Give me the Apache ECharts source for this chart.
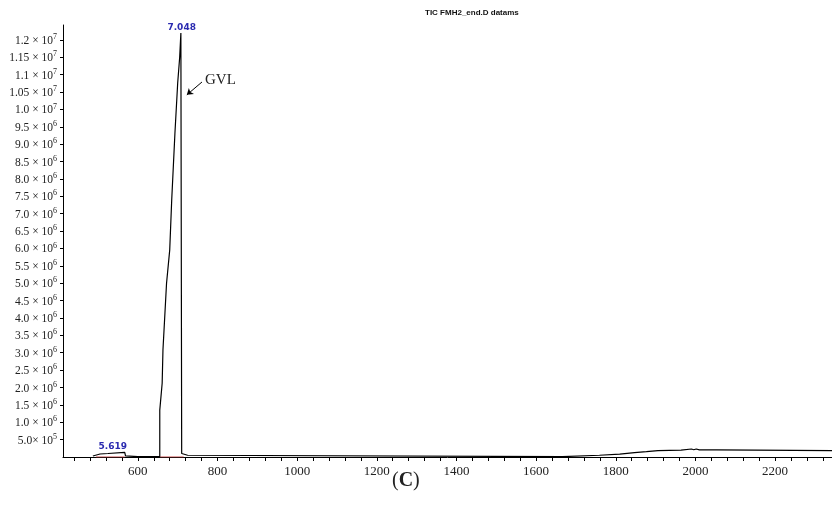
<!DOCTYPE html>
<html>
<head>
<meta charset="utf-8">
<script src="https://cdn.jsdelivr.net/npm/echarts@6/dist/echarts.min.js"></script>
<style>
  html, body { margin: 0; padding: 0; background: #ffffff; }
  #main { width: 832px; height: 515px; }
</style>
</head>
<body>
<div id="main"></div>
<script>
// TIC 色谱图数据（扫描号 / 丰度）
var traceX = [487, 505, 525, 530, 567, 569, 600, 655, 655, 661, 663, 672, 680, 685, 693, 700, 705, 708, 710, 711, 725, 730,
  1666, 1759, 1763, 1810, 1810, 1847, 1847, 1877, 1877, 1906, 1906, 1964, 1964, 1990, 1996, 2002, 2010, 2053, 2053, 2343];
var traceY = [30000, 86000, 100000, 125000, 135000, 30000, 10000, 10000, 1350000, 2120000, 3080000, 5000000, 5960000, 7400000, 9300000, 10760000, 11500000, 12200000, 100000, 60000, 50000, 10000,
  10000, 50000, 80000, 80000, 125000, 125000, 155000, 155000, 185000, 185000, 200000, 200000, 230000, 230000, 210000, 230000, 205000, 205000, 185000, 185000];

// 积分基线（红色）
var baseA = [[495, 0], [567, 0]];
var baseB = [[655, 0], [715, 0]];

// 峰标注
var peakNames = ['7.048', '5.619'];
var peakPos = [[710, 12350000], [537, 290000]];

// 坐标轴刻度
var xLabelValues = [600, 800, 1000, 1200, 1400, 1600, 1800, 2000, 2200];
var xTickValues = [];
for (var t = 440; t <= 2320; t += 40) { xTickValues.push(t); }
var yLabelValues = [500000, 1000000, 1500000, 2000000, 2500000, 3000000, 3500000, 4000000, 4500000, 5000000,
  5500000, 6000000, 6500000, 7000000, 7500000, 8000000, 8500000, 9000000, 9500000,
  10000000, 10500000, 11000000, 11500000, 12000000];

var serif = '"Liberation Serif", "DejaVu Serif", serif';

var traceData = [];
for (var i = 0; i < traceX.length; i++) {
  traceData.push([traceX[i], traceY[i]]);
}

function yFmt(v) {
  var e = v >= 10000000 ? 7 : (v >= 1000000 ? 6 : 5);
  var m = v / Math.pow(10, e);
  var s = String(Math.round(m * 100) / 100);
  if (s.indexOf('.') < 0) { s = s + '.0'; }
  var sep = e === 5 ? '× 10' : ' × 10';
  return '{m|' + s + sep + '}{e|' + e + '}';
}

var myChart = echarts.init(document.getElementById('main'));
var option = {
  backgroundColor: '#ffffff',
  animation: false,
  grid: { left: 63, right: 0, top: 25, bottom: 58 },
  xAxis: {
    type: 'value',
    min: 412,
    max: 2343,
    axisLine: { lineStyle: { color: '#000', width: 1 } },
    axisTick: { customValues: xTickValues, length: 4, lineStyle: { color: '#000' } },
    axisLabel: {
      customValues: xLabelValues, margin: 8, color: '#222', fontFamily: serif, fontSize: 13,
      formatter: function (v) { return String(v); }
    },
    splitLine: { show: false }
  },
  yAxis: {
    type: 'value',
    min: 0,
    max: 12430000,
    axisLine: { show: true, lineStyle: { color: '#000', width: 1 } },
    axisTick: { customValues: yLabelValues, length: 3, lineStyle: { color: '#000' } },
    axisLabel: {
      customValues: yLabelValues,
      margin: 6,
      formatter: yFmt,
      rich: {
        m: { color: '#222', fontFamily: serif, fontSize: 11.5, lineHeight: 14, verticalAlign: 'bottom' },
        e: { color: '#222', fontFamily: serif, fontSize: 8, lineHeight: 8, verticalAlign: 'top', padding: [0, 0, 6, 0] }
      }
    },
    splitLine: { show: false }
  },
  graphic: [
    {
      type: 'text', left: 425, top: 9,
      style: { text: 'TIC FMH2_end.D datams', fill: '#111', font: 'bold 8px "Liberation Sans", sans-serif' }
    },
    {
      type: 'text', left: 205, top: 73,
      style: { text: 'GVL', fill: '#222', font: '15px ' + serif }
    },
    {
      type: 'text', left: 392, top: 471,
      style: {
        text: '{p|(}{c|C}{p|)}',
        rich: {
          p: { fill: '#222', fontFamily: serif, fontSize: 20 },
          c: { fill: '#222', fontFamily: serif, fontSize: 20, fontWeight: 'bold' }
        }
      }
    }
  ],
  series: [
    {
      type: 'line',
      data: baseA,
      showSymbol: false,
      lineStyle: { color: '#c84848', width: 1 },
      z: 3
    },
    {
      type: 'line',
      data: baseB,
      showSymbol: false,
      lineStyle: { color: '#c84848', width: 1 },
      z: 3
    },
    {
      type: 'line',
      data: traceData,
      showSymbol: false,
      lineStyle: { color: '#000', width: 1.2 },
      z: 4,
      markPoint: {
        symbol: 'rect',
        symbolSize: 1,
        itemStyle: { color: 'rgba(0,0,0,0)' },
        label: {
          show: true,
          position: 'inside',
          color: '#2a2ab0',
          fontFamily: '"DejaVu Sans", sans-serif',
          fontWeight: 'bold',
          fontSize: 9,
          formatter: function (p) { return p.name; }
        },
        data: [
          { name: peakNames[0], coord: peakPos[0] },
          { name: peakNames[1], coord: peakPos[1] }
        ]
      },
      markLine: {
        silent: true,
        symbol: ['none', 'arrow'],
        symbolSize: 6,
        label: { show: false },
        lineStyle: { color: '#000', width: 1, type: 'solid' },
        data: [[{ coord: [761, 10790000] }, { coord: [723, 10420000] }]]
      }
    }
  ]
};
myChart.setOption(option);
</script>
</body>
</html>
